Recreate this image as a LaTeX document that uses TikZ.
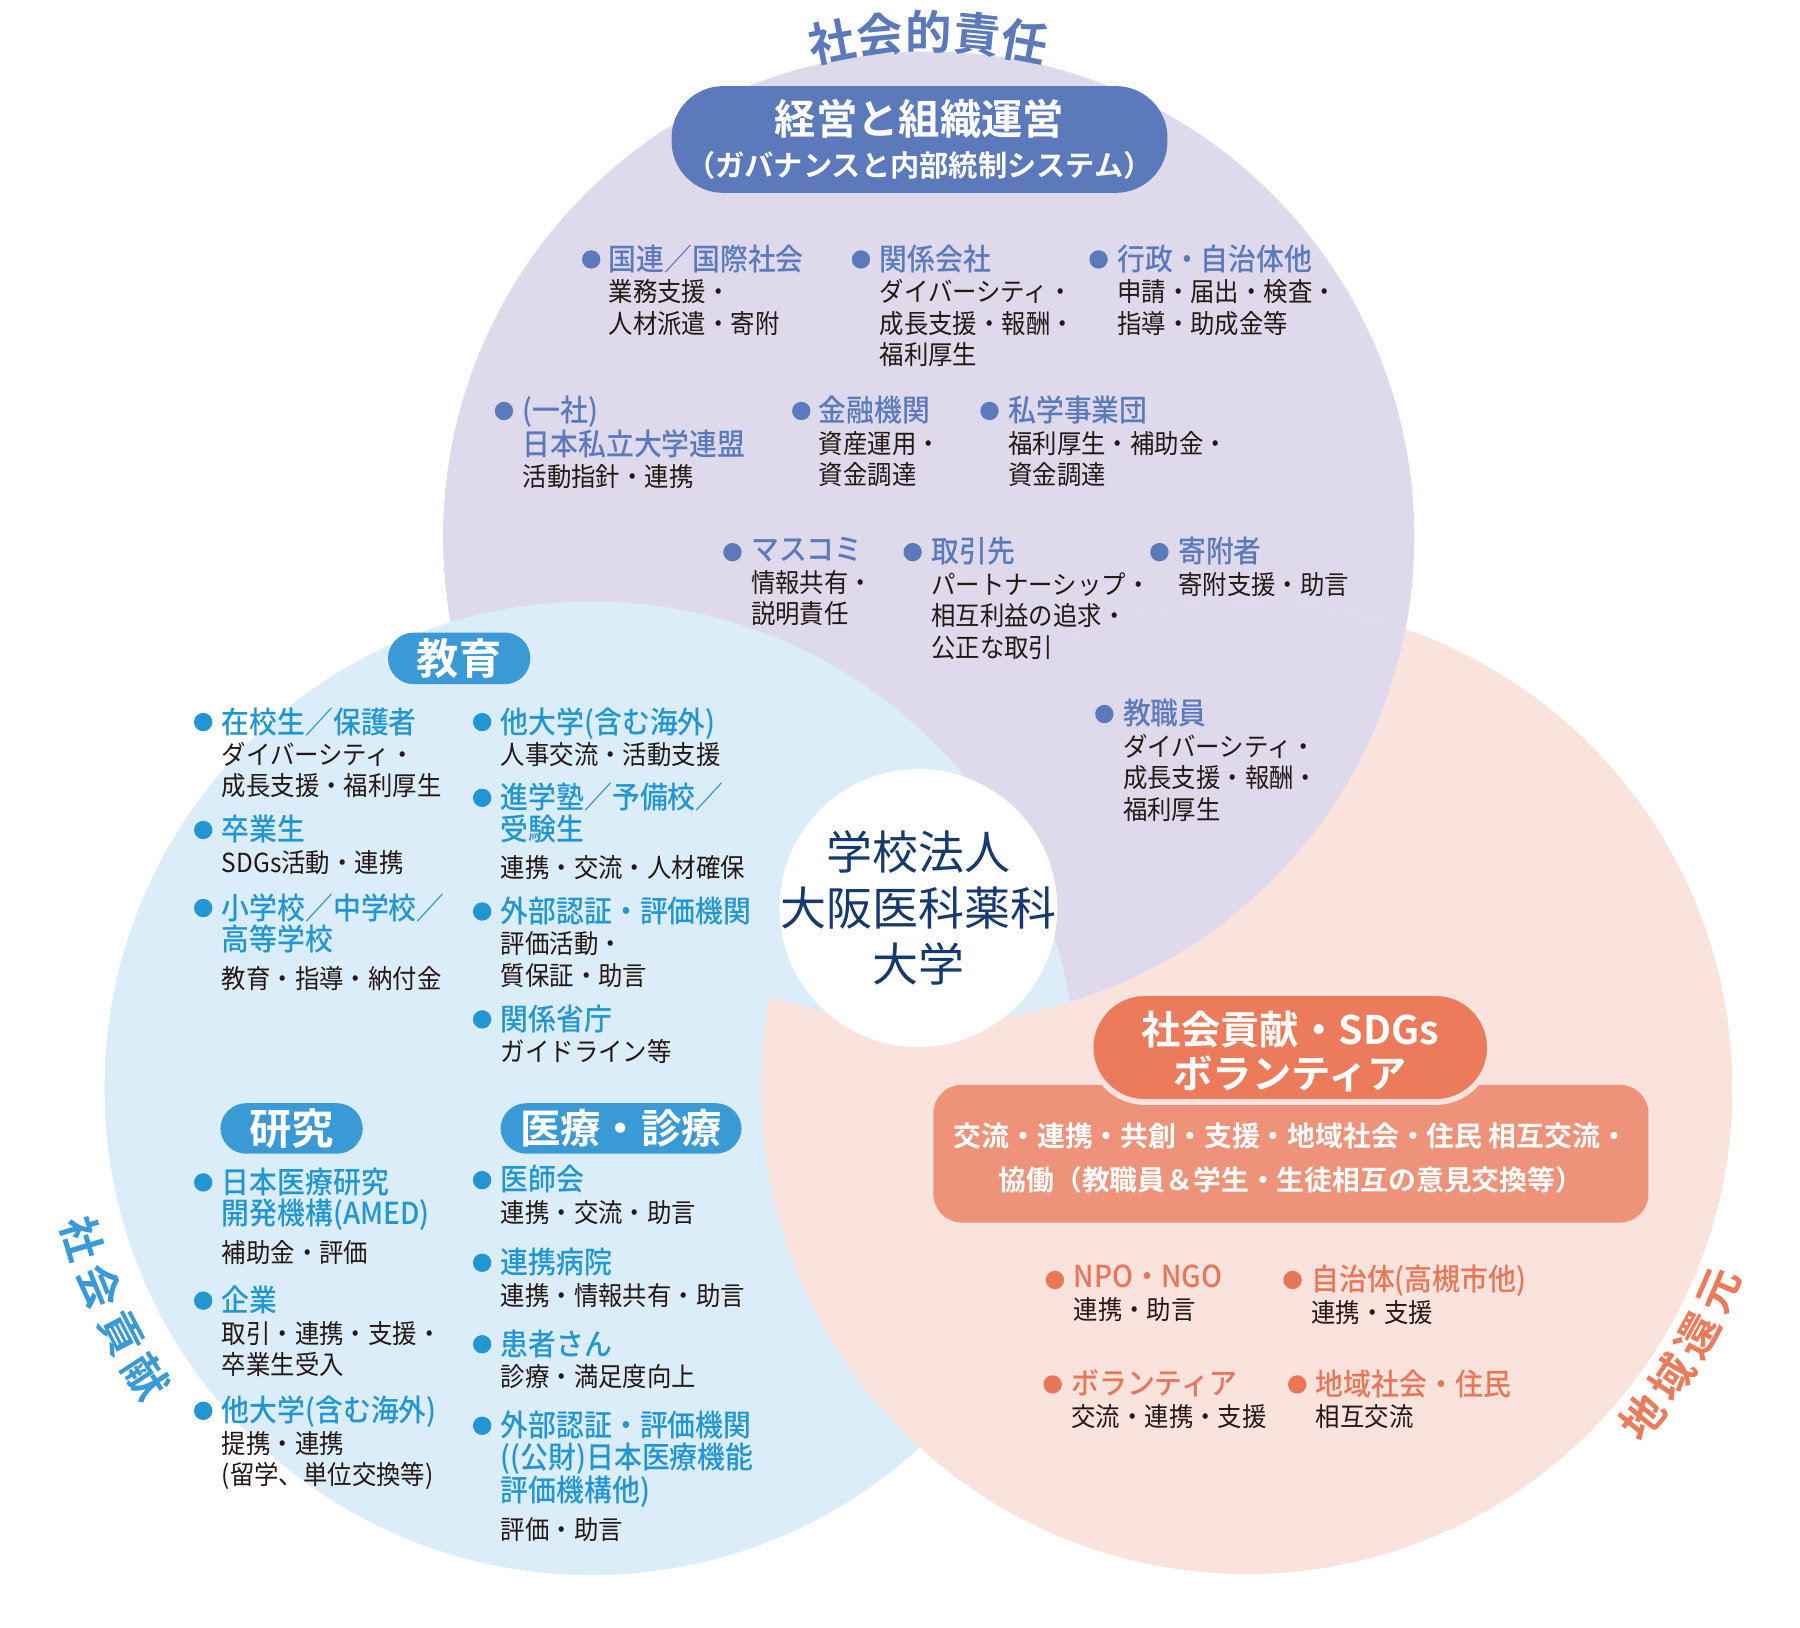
\documentclass[tikz,border=0pt]{standalone}
\usepackage{fontspec}
\setmainfont{Noto Sans CJK JP}
\newfontfamily\bodyfont{Noto Sans CJK JP}[FakeStretch=0.93]
\newfontfamily\headfont{Noto Sans CJK JP Medium}[FakeStretch=0.92]
\newfontfamily\pillfont{Noto Sans CJK JP Bold}
\usepackage{xcolor}
\definecolor{GovernPurple}{HTML}{5B79BB}
\definecolor{GovernLilac}{HTML}{DEDAEC}
\definecolor{ContribSky}{HTML}{DBEDF9}
\definecolor{ContribBlue}{HTML}{3A9AD6}
\definecolor{ContribCyan}{HTML}{2296D3}
\definecolor{RegionPeach}{HTML}{FAE3DD}
\definecolor{RegionCoral}{HTML}{EC7B5C}
\definecolor{RegionSalmon}{HTML}{EE937A}
\definecolor{RegionOrange}{HTML}{EA7658}
\definecolor{CorpNavy}{HTML}{173A6E}
\definecolor{InkBlack}{HTML}{231815}
\newcommand{\itemhead}[2]{{\headfont\fontsize{15}{15.6}\selectfont\color{#1}#2}}
\usetikzlibrary{positioning}

\begin{document}
\begin{tikzpicture}[x=0.2mm, y=-0.2mm,
    bullet/.style={circle, inner sep=0pt, minimum size=3.2mm},
    partner/.style={anchor=north west, inner sep=0pt, align=left, text=InkBlack, yshift=7.5pt, font=\bodyfont\fontsize{13}{15.6}\selectfont},
    arcword/.style={inner sep=0pt, font=\pillfont\fontsize{23}{23}\selectfont}]
    \useasboundingbox (0,0) rectangle (1568,1418);

    % the three circles
    \coordinate (cGov) at (809,468);
    \coordinate (cEdu) at (515,948);
    \coordinate (cReg) at (1086,948);
    \fill[RegionPeach] (cReg) circle[radius=84.6mm];
    \fill[GovernLilac] (cGov) circle[radius=84.6mm];
    \fill[ContribSky] (cEdu) circle[radius=84.8mm];
    \begin{scope}
        \clip (cReg) circle[radius=84.6mm];
        \fill[RegionPeach, even odd rule] (cReg) circle[radius=84.6mm] (cGov) circle[radius=84.6mm];
    \end{scope}
    \node[circle, fill=white, minimum size=48.4mm, inner sep=0pt] (core) at (800,791) {};
    \node[align=center, text=CorpNavy, font=\fontsize{22.8}{27.6}\selectfont] (corename) at (core) {学校法人\\大阪医科薬科\\大学};

    % words round the circles
    \node[arcword, text=GovernPurple, rotate=11] (top1) at ([shift={(-101:440)}]cGov) {社};
    \node[arcword, text=GovernPurple, rotate=5.5] (top2) at ([shift={(-95.5:440)}]cGov) {会};
    \node[arcword, text=GovernPurple, rotate=0] (top3) at ([shift={(-90:440)}]cGov) {的};
    \node[arcword, text=GovernPurple, rotate=-5.5] (top4) at ([shift={(-84.5:440)}]cGov) {責};
    \node[arcword, text=GovernPurple, rotate=-11] (top5) at ([shift={(-79:440)}]cGov) {任};
    \node[arcword, font=\pillfont\fontsize{21.5}{21.5}\selectfont, text=ContribBlue, rotate=-73.5] (left1) at ([shift={(-196.5:462)}]cEdu) {社};
    \node[arcword, font=\pillfont\fontsize{21.5}{21.5}\selectfont, text=ContribBlue, rotate=-68] (left2) at ([shift={(-202:462)}]cEdu) {会};
    \node[arcword, font=\pillfont\fontsize{21.5}{21.5}\selectfont, text=ContribBlue, rotate=-62.5] (left3) at ([shift={(-207.5:462)}]cEdu) {貢};
    \node[arcword, font=\pillfont\fontsize{21.5}{21.5}\selectfont, text=ContribBlue, rotate=-57] (left4) at ([shift={(-213:462)}]cEdu) {献};
    \node[arcword, font=\pillfont\fontsize{21.5}{21.5}\selectfont, text=RegionCoral, rotate=50.3] (right1) at ([shift={(39.7:448)}]cReg) {地};
    \node[arcword, font=\pillfont\fontsize{21.5}{21.5}\selectfont, text=RegionCoral, rotate=55.8] (right2) at ([shift={(34.2:448)}]cReg) {域};
    \node[arcword, font=\pillfont\fontsize{21.5}{21.5}\selectfont, text=RegionCoral, rotate=61.3] (right3) at ([shift={(28.7:448)}]cReg) {還};
    \node[arcword, font=\pillfont\fontsize{21.5}{21.5}\selectfont, text=RegionCoral, rotate=66.8] (right4) at ([shift={(23.2:448)}]cReg) {元};

    % headers
    \fill[fill=GovernPurple, text=white, rounded corners=9mm] (585,75) rectangle (1017,168) node[pos=0.5, align=center, font=\pillfont\fontsize{14.5}{20.5}\selectfont] (gov) {{\fontsize{20.5}{20.5}\selectfont 経営と組織運営}\\（ガバナンスと内部統制システム）};
    \fill[fill=ContribBlue, text=white, rounded corners=4.5mm] (338,551) rectangle (462,596) node[pos=0.5, font=\pillfont\fontsize{21}{21}\selectfont] (edu) {教育};
    \fill[fill=ContribBlue, text=white, rounded corners=4.5mm] (192,961) rectangle (316,1005) node[pos=0.5, font=\pillfont\fontsize{21}{21}\selectfont] (res) {研究};
    \fill[fill=ContribBlue, text=white, rounded corners=4.5mm] (436,961) rectangle (646,1005) node[pos=0.5, font=\pillfont\fontsize{20}{20}\selectfont] (med) {医療・診療};
    \fill[fill=RegionSalmon, text=white, rounded corners=5mm] (813,945) rectangle (1436,1065) node[pos=0.5, yshift=-0.8mm, align=center, font=\pillfont\fontsize{13.8}{21.6}\selectfont] (regbox) {交流・連携・共創・支援・地域社会・住民 相互交流・\\協働（教職員＆学生・生徒相互の意見交換等）};
    \filldraw[fill=RegionCoral, draw=RegionPeach, line width=1mm, text=white, rounded corners=9.5mm] (950,865) rectangle (1298,960) node[pos=0.5, yshift=-0.7mm, align=center, font=\pillfont\fontsize{19.5}{21.6}\selectfont] (reg) {社会貢献・SDGs\\ボランティア};

    % partners: management
    \node[bullet, fill=GovernPurple] (gd1) at (515,226) {};
    \node[partner] (gt1) at (530,226) {\itemhead{GovernPurple}{国連／国際社会}\\業務支援・\\人材派遣・寄附};
    \node[bullet, fill=GovernPurple] (gd2) at (750,226) {};
    \node[partner] (gt2) at (766,226) {\itemhead{GovernPurple}{関係会社}\\ダイバーシティ・\\成長支援・報酬・\\福利厚生};
    \node[bullet, fill=GovernPurple] (gd3) at (957,226) {};
    \node[partner] (gt3) at (973,226) {\itemhead{GovernPurple}{行政・自治体他}\\申請・届出・検査・\\指導・助成金等};
    \node[bullet, fill=GovernPurple] (gd4) at (439,358) {};
    \node[partner] (gt4) at (455,358) {\itemhead{GovernPurple}{(一社)}\\\itemhead{GovernPurple}{日本私立大学連盟}\\活動指針・連携};
    \node[bullet, fill=GovernPurple] (gd5) at (698,358) {};
    \node[partner] (gt5) at (713,358) {\itemhead{GovernPurple}{金融機関}\\資産運用・\\資金調達};
    \node[bullet, fill=GovernPurple] (gd6) at (862,358) {};
    \node[partner] (gt6) at (878,358) {\itemhead{GovernPurple}{私学事業団}\\福利厚生・補助金・\\資金調達};
    \node[bullet, fill=GovernPurple] (gd7) at (638,481) {};
    \node[partner] (gt7) at (654,481) {\itemhead{GovernPurple}{マスコミ}\\情報共有・\\説明責任};
    \node[bullet, fill=GovernPurple] (gd8) at (795,481) {};
    \node[partner] (gt8) at (811,481) {\itemhead{GovernPurple}{取引先}\\パートナーシップ・\\相互利益の追求・\\公正な取引};
    \node[bullet, fill=GovernPurple] (gd9) at (1010,481) {};
    \node[partner] (gt9) at (1026,481) {\itemhead{GovernPurple}{寄附者}\\寄附支援・助言};
    \node[bullet, fill=GovernPurple] (gd10) at (962,622) {};
    \node[partner] (gt10) at (978,622) {\itemhead{GovernPurple}{教職員}\\ダイバーシティ・\\成長支援・報酬・\\福利厚生};

    % partners: education
    \node[bullet, fill=ContribCyan] (ed1) at (177,629) {};
    \node[partner] (et1) at (193,629) {\itemhead{ContribCyan}{在校生／保護者}\\ダイバーシティ・\\成長支援・福利厚生};
    \node[bullet, fill=ContribCyan] (ed2) at (177,723) {};
    \node[partner] (et2) at (193,723) {\itemhead{ContribCyan}{卒業生}\\SDGs活動・連携};
    \node[bullet, fill=ContribCyan] (ed3) at (177,791) {};
    \node[partner] (et3) at (193,791) {\itemhead{ContribCyan}{小学校／中学校／}\\\itemhead{ContribCyan}{高等学校}\\[3pt]教育・指導・納付金};
    \node[bullet, fill=ContribCyan] (ed4) at (420,629) {};
    \node[partner] (et4) at (436,629) {\itemhead{ContribCyan}{他大学(含む海外)}\\人事交流・活動支援};
    \node[bullet, fill=ContribCyan] (ed5) at (420,695) {};
    \node[partner] (et5) at (436,695) {\itemhead{ContribCyan}{進学塾／予備校／}\\\itemhead{ContribCyan}{受験生}\\[3pt]連携・交流・人材確保};
    \node[bullet, fill=ContribCyan] (ed6) at (420,794) {};
    \node[partner] (et6) at (436,794) {\itemhead{ContribCyan}{外部認証・評価機関}\\評価活動・\\質保証・助言};
    \node[bullet, fill=ContribCyan] (ed7) at (420,888) {};
    \node[partner] (et7) at (436,888) {\itemhead{ContribCyan}{関係省庁}\\ガイドライン等};

    % partners: research
    \node[bullet, fill=ContribCyan] (rd1) at (177,1030) {};
    \node[partner] (rt1) at (193,1030) {\itemhead{ContribCyan}{日本医療研究}\\\itemhead{ContribCyan}{開発機構(AMED)}\\[3pt]補助金・評価};
    \node[bullet, fill=ContribCyan] (rd2) at (177,1133) {};
    \node[partner] (rt2) at (193,1133) {\itemhead{ContribCyan}{企業}\\取引・連携・支援・\\卒業生受入};
    \node[bullet, fill=ContribCyan] (rd3) at (177,1229) {};
    \node[partner] (rt3) at (193,1229) {\itemhead{ContribCyan}{他大学(含む海外)}\\提携・連携\\(留学、単位交換等)};

    % partners: medicine
    \node[bullet, fill=ContribCyan] (md1) at (420,1028) {};
    \node[partner] (mt1) at (436,1028) {\itemhead{ContribCyan}{医師会}\\連携・交流・助言};
    \node[bullet, fill=ContribCyan] (md2) at (420,1100) {};
    \node[partner] (mt2) at (436,1100) {\itemhead{ContribCyan}{連携病院}\\連携・情報共有・助言};
    \node[bullet, fill=ContribCyan] (md3) at (420,1171) {};
    \node[partner] (mt3) at (436,1171) {\itemhead{ContribCyan}{患者さん}\\診療・満足度向上};
    \node[bullet, fill=ContribCyan] (md4) at (420,1242) {};
    \node[partner] (mt4) at (436,1242) {\itemhead{ContribCyan}{外部認証・評価機関}\\\itemhead{ContribCyan}{((公財)日本医療機能}\\\itemhead{ContribCyan}{評価機構他)}\\[3pt]評価・助言};

    % partners: region
    \node[bullet, fill=RegionOrange] (cd1) at (919,1115) {};
    \node[partner] (ct1) at (935,1115) {\itemhead{RegionOrange}{NPO・NGO}\\連携・助言};
    \node[bullet, fill=RegionOrange] (cd2) at (1126,1115) {};
    \node[partner] (ct2) at (1142,1115) {\itemhead{RegionOrange}{自治体(高槻市他)}\\連携・支援};
    \node[bullet, fill=RegionOrange] (cd3) at (917,1206) {};
    \node[partner] (ct3) at (933,1206) {\itemhead{RegionOrange}{ボランティア}\\交流・連携・支援};
    \node[bullet, fill=RegionOrange] (cd4) at (1130,1206) {};
    \node[partner] (ct4) at (1146,1206) {\itemhead{RegionOrange}{地域社会・住民}\\相互交流};
\end{tikzpicture}
\end{document}
